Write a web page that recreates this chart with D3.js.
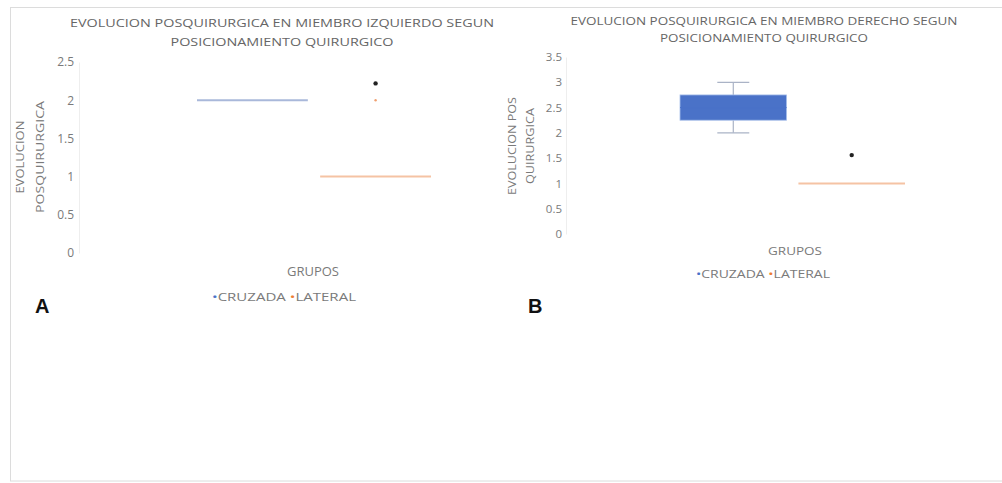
<!DOCTYPE html>
<html><head><meta charset="utf-8">
<script src="https://cdn.jsdelivr.net/npm/d3@7"></script>
<style>
html,body{margin:0;padding:0;background:#fff;}
svg{display:block;font-family:"Open Sans","Noto Sans",sans-serif;}
</style></head>
<body>
<svg id="c" width="1002" height="483"></svg>
<script>
// ---- data ----
const categories = ["CRUZADA", "LATERAL"];

// Panel A: left limb
const leftTitle = ["EVOLUCION POSQUIRURGICA EN MIEMBRO IZQUIERDO SEGUN", "POSICIONAMIENTO QUIRURGICO"];
const leftYLabel = ["EVOLUCION", "POSQUIRURGICA"];
const leftTicks = [0, 0.5, 1, 1.5, 2, 2.5];
const leftMin = [2, 1];
const leftQ1 = [2, 1];
const leftMedian = [2, 1];
const leftQ3 = [2, 1];
const leftMax = [2, 1];
const leftOutliers = [null, 2];
const leftDots = [null, 2.22];

// Panel B: right limb
const rightTitle = ["EVOLUCION POSQUIRURGICA EN MIEMBRO DERECHO SEGUN", "POSICIONAMIENTO QUIRURGICO"];
const rightYLabel = ["EVOLUCION POS", "QUIRURGICA"];
const rightTicks = [0, 0.5, 1, 1.5, 2, 2.5, 3, 3.5];
const rightMin = [2, 1];
const rightQ1 = [2.25, 1];
const rightMedian = [2.5, 1];
const rightQ3 = [2.75, 1];
const rightMax = [3, 1];
const rightOutliers = [null, null];
const rightDots = [null, 1.56];

const xLabel = "GRUPOS";

// ---- drawing ----
const svg = d3.select("#c");
svg.append("rect").attr("x", 10.5).attr("y", 7.5).attr("width", 1000).attr("height", 473.5)
  .attr("fill", "none").attr("stroke", "#dcdcdc");

const fillCol = ["#4a72c8", "#ed7d31"];
const lineCol = ["#a9b8da", "#f5c3a4"];
const textCol = "#7a7a7a";

function panel(cfg) {
  const g = svg.append("g");
  const y = d3.scaleLinear().domain(cfg.domain).range(cfg.yRange);
  const x = d3.scaleBand().domain(categories).range(cfg.xRange).paddingInner(0.1);

  // titles
  cfg.title.forEach((t, i) => {
    g.append("text").attr("x", cfg.titleX).attr("y", cfg.titleY[i])
      .attr("text-anchor", "middle").attr("fill", "#666")
      .attr("font-size", cfg.titleSize)
      .attr("textLength", cfg.titleLen[i]).attr("lengthAdjust", "spacingAndGlyphs")
      .text(t);
  });

  // y axis
  const ax = g.append("g").attr("transform", `translate(${cfg.axisX},0)`)
    .call(d3.axisLeft(y).tickValues(cfg.ticks).tickSize(0).tickPadding(cfg.tickPad).tickFormat(d3.format("")));
  ax.select(".domain").attr("stroke", "#eeeeee");
  ax.selectAll("text").attr("fill", textCol).attr("font-size", cfg.tickSize).attr("font-family", "Open Sans");

  // y label
  cfg.yLabel.forEach((t, i) => {
    g.append("text")
      .attr("transform", `translate(${cfg.yLabX[i]},${cfg.yLabY}) rotate(-90)`)
      .attr("text-anchor", "middle").attr("dominant-baseline", "central")
      .attr("fill", textCol).attr("font-size", cfg.yLabSize)
      .attr("textLength", cfg.yLabLen[i]).attr("lengthAdjust", "spacingAndGlyphs")
      .text(t);
  });

  // boxes
  categories.forEach((c, i) => {
    const cx = x(c) + x.bandwidth() / 2;
    const top = y(cfg.q3[i]), bot = y(cfg.q1[i]);
    const capW = x.bandwidth() * 0.3;
    if (cfg.max[i] > cfg.q3[i]) {
      g.append("line").attr("x1", cx).attr("x2", cx).attr("y1", y(cfg.max[i])).attr("y2", top).attr("stroke", "#aab3c6").attr("stroke-width", 1.2);
      g.append("line").attr("x1", cx - capW / 2).attr("x2", cx + capW / 2).attr("y1", y(cfg.max[i])).attr("y2", y(cfg.max[i])).attr("stroke", "#aab3c6").attr("stroke-width", 1.2);
    }
    if (cfg.min[i] < cfg.q1[i]) {
      g.append("line").attr("x1", cx).attr("x2", cx).attr("y1", bot).attr("y2", y(cfg.min[i])).attr("stroke", "#aab3c6").attr("stroke-width", 1.2);
      g.append("line").attr("x1", cx - capW / 2).attr("x2", cx + capW / 2).attr("y1", y(cfg.min[i])).attr("y2", y(cfg.min[i])).attr("stroke", "#aab3c6").attr("stroke-width", 1.2);
    }
    if (bot - top > 0.5) {
      g.append("rect").attr("x", x(c)).attr("y", top).attr("width", x.bandwidth()).attr("height", bot - top)
        .attr("fill", fillCol[i]).attr("stroke", "#a9c0ea").attr("stroke-width", 0.8);
      g.append("line").attr("x1", x(c)).attr("x2", x(c) + x.bandwidth()).attr("y1", y(cfg.median[i])).attr("y2", y(cfg.median[i]))
        .attr("stroke", fillCol[i]).attr("stroke-width", 1);
    } else {
      g.append("line").attr("x1", x(c)).attr("x2", x(c) + x.bandwidth()).attr("y1", y(cfg.median[i])).attr("y2", y(cfg.median[i]))
        .attr("stroke", lineCol[i]).attr("stroke-width", 2);
    }
    if (cfg.outliers[i] != null) {
      g.append("circle").attr("cx", cx).attr("cy", y(cfg.outliers[i])).attr("r", 1.2).attr("fill", "#f0a070");
    }
    if (cfg.dots[i] != null) {
      g.append("circle").attr("cx", cx).attr("cy", y(cfg.dots[i])).attr("r", 2.2).attr("fill", "#222");
    }
  });

  // x label
  g.append("text").attr("x", cfg.xLabX).attr("y", cfg.xLabY).attr("text-anchor", "middle")
    .attr("fill", textCol).attr("font-size", cfg.xLabSize)
    .attr("textLength", cfg.xLabLen).attr("lengthAdjust", "spacingAndGlyphs").text(xLabel);

  // legend
  const lg = g.append("text").attr("x", cfg.legX).attr("y", cfg.legY).attr("fill", textCol)
    .attr("font-size", cfg.legSize).attr("textLength", cfg.legLen).attr("lengthAdjust", "spacingAndGlyphs");
  categories.forEach((c, i) => {
    lg.append("tspan").attr("fill", fillCol[i]).text("\u2022");
    lg.append("tspan").attr("fill", textCol).text(c + (i < categories.length - 1 ? " " : ""));
  });

  // panel letter
  g.append("text").attr("x", cfg.letterX).attr("y", 313).attr("font-size", 20).attr("font-weight", "bold")
    .attr("font-family", "Liberation Sans, Arial, sans-serif").attr("fill", "#111").text(cfg.letter);
}

panel({
  domain: [0, 2.5], yRange: [253, 62], xRange: [197, 431], ticks: leftTicks,
  min: leftMin, q1: leftQ1, median: leftMedian, q3: leftQ3, max: leftMax, outliers: leftOutliers, dots: leftDots,
  title: leftTitle, titleX: 282, titleY: [27, 46], titleLen: [424, 223], titleSize: 11.5,
  axisX: 79, tickPad: 5, tickSize: 12,
  yLabel: leftYLabel, yLabX: [19, 39], yLabY: 157, yLabLen: [73, 112], yLabSize: 11.5,
  xLabX: 313, xLabY: 276, xLabSize: 12, xLabLen: 52,
  legX: 212, legY: 301, legLen: 144, legSize: 11.5,
  letter: "A", letterX: 35
});

panel({
  domain: [0, 3.5], yRange: [234, 57], xRange: [680, 905], ticks: rightTicks,
  min: rightMin, q1: rightQ1, median: rightMedian, q3: rightQ3, max: rightMax, outliers: rightOutliers, dots: rightDots,
  title: rightTitle, titleX: 764, titleY: [25, 42], titleLen: [387, 208], titleSize: 10.5,
  axisX: 566, tickPad: 4, tickSize: 11.5,
  yLabel: rightYLabel, yLabX: [512, 530], yLabY: 146, yLabLen: [98, 76], yLabSize: 10.5,
  xLabX: 795, xLabY: 255, xLabSize: 11, xLabLen: 54,
  legX: 696, legY: 278, legLen: 134, legSize: 11,
  letter: "B", letterX: 528
});
</script>
</body></html>
